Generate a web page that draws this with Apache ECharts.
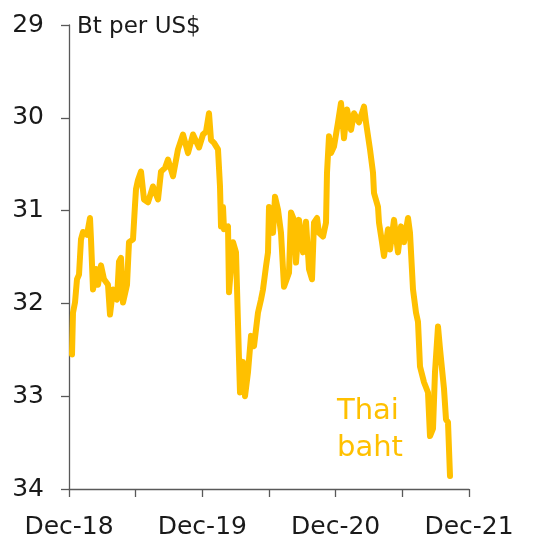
<!DOCTYPE html>
<html>
<head>
<meta charset="utf-8">
<script src="https://cdn.jsdelivr.net/npm/echarts@6/dist/echarts.min.js"></script>
<style>
  html, body { margin: 0; padding: 0; background: #fff; }
  #chart { width: 539px; height: 540px; }
</style>
</head>
<body>
<div id="chart"></div>
<script>
// Thai baht per US dollar, months elapsed since Dec-18
const months = [
  0.27, 0.36, 0.54, 0.72, 0.90, 1.08, 1.26, 1.62, 1.89, 1.98,
  2.16, 2.43, 2.61, 2.88, 3.15, 3.51, 3.69, 3.96, 4.32, 4.50,
  4.68, 4.86, 5.22, 5.40, 5.76, 5.94, 6.03, 6.21, 6.48, 6.75,
  7.11, 7.56, 8.01, 8.28, 8.64, 8.91, 9.36, 9.81, 10.26, 10.71,
  11.16, 11.70, 12.06, 12.33, 12.60, 12.78, 13.05, 13.41, 13.59, 13.68,
  13.86, 13.95, 14.31, 14.40, 14.76, 15.03, 15.30, 15.39, 15.66, 15.84,
  16.11, 16.38, 16.65, 17.01, 17.28, 17.46, 17.73, 17.91, 18.00, 18.18,
  18.36, 18.54, 18.81, 19.08, 19.35, 19.53, 19.80, 19.98, 20.25, 20.43,
  20.70, 21.06, 21.33, 21.60, 21.87, 22.05, 22.32, 22.50, 22.86, 23.13,
  23.22, 23.40, 23.58, 23.85, 24.21, 24.48, 24.75, 25.02, 25.38, 25.65,
  26.10, 26.55, 26.73, 26.91, 27.09, 27.36, 27.45, 27.81, 27.90, 28.17,
  28.35, 28.71, 28.89, 29.25, 29.61, 29.88, 30.15, 30.51, 30.69, 30.96,
  31.23, 31.41, 31.59, 31.95, 32.31, 32.49, 32.76, 32.94, 33.21, 33.39,
  33.75, 33.93, 34.11, 34.29
];

const baht = [
  32.55, 32.10, 31.99, 31.74, 31.69, 31.31, 31.23, 31.26, 31.08, 31.31,
  31.85, 31.63, 31.80, 31.59, 31.74, 31.80, 32.12, 31.85, 31.96, 31.55,
  31.51, 31.99, 31.80, 31.34, 31.31, 30.94, 30.77, 30.67, 30.58, 30.88,
  30.91, 30.74, 30.88, 30.58, 30.54, 30.45, 30.63, 30.34, 30.18, 30.38,
  30.18, 30.32, 30.18, 30.15, 29.95, 30.24, 30.27, 30.34, 30.74, 31.17,
  30.96, 31.20, 31.17, 31.88, 31.34, 31.45, 32.60, 32.96, 32.63, 33.00,
  32.74, 32.35, 32.46, 32.10, 31.96, 31.85, 31.60, 31.45, 30.96, 30.99,
  31.24, 30.85, 30.99, 31.24, 31.82, 31.82, 31.67, 31.02, 31.10, 31.56,
  31.10, 31.45, 31.12, 31.63, 31.74, 31.13, 31.08, 31.24, 31.28, 31.13,
  30.59, 30.20, 30.38, 30.31, 30.05, 29.84, 30.22, 29.91, 30.13, 29.95,
  30.05, 29.88, 30.05, 30.04, 30.34, 30.59, 30.81, 30.96, 31.13, 31.34,
  31.49, 31.20, 31.42, 31.10, 31.45, 31.17, 31.34, 31.08, 31.24, 31.85,
  32.10, 32.20, 32.68, 32.85, 32.96, 33.43, 33.35, 32.74, 32.25, 32.49,
  32.92, 33.25, 33.28, 33.86
];

// x-axis tick labels, one per 6-month step
const xTickLabels = ['Dec-18', '', 'Dec-19', '', 'Dec-20', '', 'Dec-21'];
const yTickLabels = ['29', '30', '31', '32', '33', '34'];

const seriesData = months.map((m, i) => [m, baht[i]]);

const FONT = 'DejaVu Sans';
const GOLD = '#FFC000';
const AXIS = '#595959';

const chart = echarts.init(document.getElementById('chart'), null, { renderer: 'canvas' });
chart.setOption({
  animation: false,
  backgroundColor: '#fff',
  grid: { left: 69, right: 70, top: 25, bottom: 50, containLabel: false },
  xAxis: {
    type: 'value',
    min: 0,
    max: 36,
    interval: 6,
    splitLine: { show: false },
    axisLine: { onZero: false, lineStyle: { color: AXIS, width: 1.3 } },
    axisTick: { show: true, length: 8, lineStyle: { color: AXIS, width: 1.3 } },
    axisLabel: {
      margin: 26,
      fontFamily: FONT,
      fontSize: 25,
      color: '#1a1a1a',
      showMinLabel: true,
      showMaxLabel: true,
      formatter: v => xTickLabels[Math.round(v / 6)] || ''
    }
  },
  yAxis: {
    type: 'value',
    inverse: true,
    min: 29,
    max: 34,
    interval: 1,
    splitLine: { show: false },
    axisLine: { show: true, lineStyle: { color: AXIS, width: 1.3 } },
    axisTick: { show: true, length: 8, lineStyle: { color: AXIS, width: 1.3 } },
    axisLabel: {
      margin: 25,
      fontFamily: FONT,
      fontSize: 25,
      color: '#1a1a1a',
      formatter: v => yTickLabels[Math.round(v - 29)]
    }
  },
  graphic: [
    {
      type: 'text',
      left: 77,
      top: 16,
      style: { text: 'Bt per US$', font: '23px "DejaVu Sans"', fill: '#1a1a1a' }
    },
    {
      type: 'text',
      left: 337,
      top: 393,
      style: {
        text: 'Thai\nbaht',
        font: '29px "DejaVu Sans"',
        fill: GOLD,
        lineHeight: 37
      }
    }
  ],
  series: [
    {
      type: 'line',
      data: seriesData,
      showSymbol: false,
      smooth: false,
      lineStyle: { color: GOLD, width: 6, join: 'round', cap: 'round' }
    }
  ]
});
</script>
</body>
</html>
